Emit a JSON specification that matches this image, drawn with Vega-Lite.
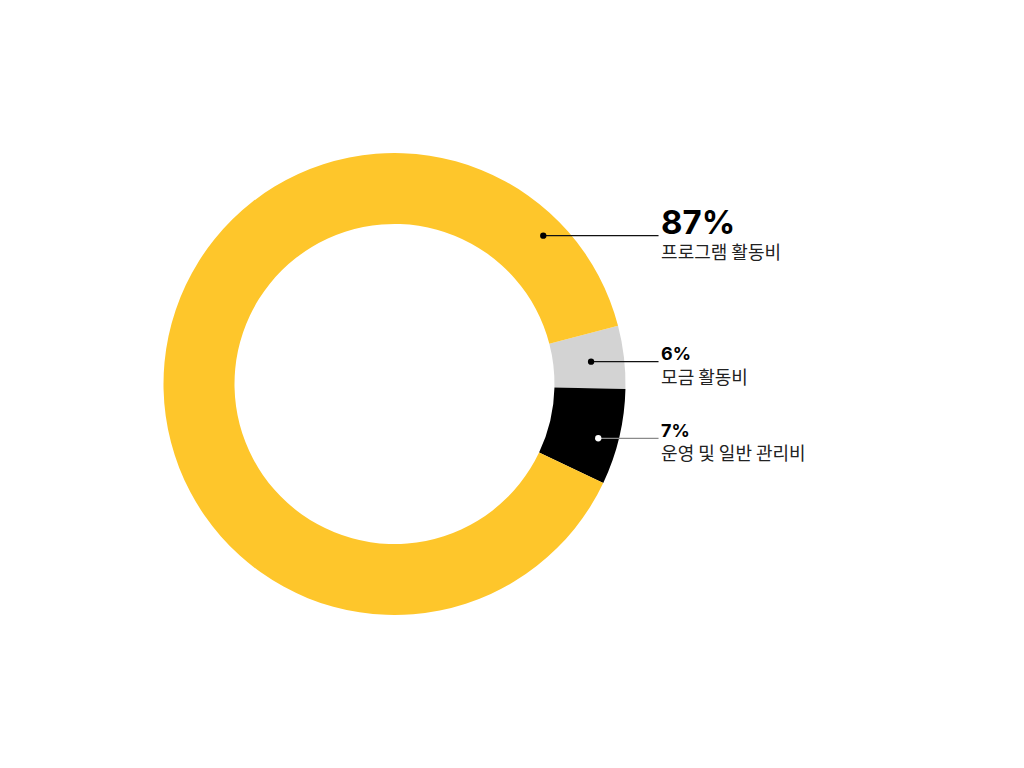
{
  "$schema": "https://vega.github.io/schema/vega-lite/v6.json",
  "width": 789,
  "height": 768,
  "autosize": {"type": "none"},
  "padding": {"left": 0, "top": 0, "right": 235, "bottom": 0},
  "background": "white",
  "config": {"view": {"stroke": null}},
  "datasets": {
    "segments": [
      {"name": "모금 활동비", "share": 4.4, "order": 1},
      {"name": "운영 및 일반 관리비", "share": 6.7, "order": 2},
      {"name": "프로그램 활동비", "share": 88.9, "order": 3}
    ],
    "labels": [
      {"name": "프로그램 활동비", "pct": "87%", "big": true, "dot_x": 64.4, "dot_y": 64.2, "line_end": 114.3, "text_x": 115.4, "pct_y": 65.15, "name_y": 54.3, "light": false},
      {"name": "모금 활동비", "pct": "6%", "big": false, "dot_x": 85.1, "dot_y": 9.65, "line_end": 114.3, "text_x": 115.4, "pct_y": 10.39, "name_y": -0.2, "light": false},
      {"name": "운영 및 일반 관리비", "pct": "7%", "big": false, "dot_x": 88.2, "dot_y": -23.5, "line_end": 114.3, "text_x": 115.4, "pct_y": -22.8, "name_y": -32.9, "light": true}
    ]
  },
  "layer": [
    {
      "data": {"name": "segments"},
      "mark": {"type": "arc", "outerRadius": 231, "innerRadius": 160},
      "encoding": {
        "theta": {
          "field": "share",
          "type": "quantitative",
          "stack": true,
          "scale": {"range": [1.316, 7.599]}
        },
        "order": {"field": "order", "type": "quantitative"},
        "color": {
          "field": "name",
          "type": "nominal",
          "scale": {
            "domain": ["모금 활동비", "운영 및 일반 관리비", "프로그램 활동비"],
            "range": ["#d3d3d3", "#000000", "#fec62b"]
          },
          "legend": null
        }
      }
    },
    {
      "data": {"name": "labels"},
      "layer": [
        {
          "mark": {"type": "rule", "strokeWidth": 1.2},
          "encoding": {
            "x": {"field": "dot_x", "type": "quantitative", "scale": {"domain": [-170.78, 170.78], "zero": false, "nice": false}, "axis": null},
            "x2": {"field": "line_end"},
            "y": {"field": "dot_y", "type": "quantitative", "scale": {"domain": [-166.23, 166.23], "zero": false, "nice": false}, "axis": null},
            "stroke": {
              "condition": {"test": "datum.light", "value": "#8a8a8a"},
              "value": "#111111"
            }
          }
        },
        {
          "mark": {"type": "circle", "size": 40, "opacity": 1},
          "encoding": {
            "x": {"field": "dot_x", "type": "quantitative"},
            "y": {"field": "dot_y", "type": "quantitative"},
            "fill": {
              "condition": {"test": "datum.light", "value": "#ffffff"},
              "value": "#000000"
            }
          }
        },
        {
          "transform": [{"filter": "datum.big"}],
          "mark": {"type": "text", "align": "left", "baseline": "alphabetic", "font": "Inter", "fontWeight": "bold", "fontSize": 33, "fill": "#000000"},
          "encoding": {
            "x": {"field": "text_x", "type": "quantitative"},
            "y": {"field": "pct_y", "type": "quantitative"},
            "text": {"field": "pct"}
          }
        },
        {
          "transform": [{"filter": "!datum.big"}],
          "mark": {"type": "text", "align": "left", "baseline": "alphabetic", "font": "Inter", "fontWeight": "bold", "fontSize": 18, "fill": "#000000"},
          "encoding": {
            "x": {"field": "text_x", "type": "quantitative"},
            "y": {"field": "pct_y", "type": "quantitative"},
            "text": {"field": "pct"}
          }
        },
        {
          "mark": {"type": "text", "align": "left", "baseline": "alphabetic", "font": "Noto Sans CJK KR", "fontSize": 18, "fill": "#222222"},
          "encoding": {
            "x": {"field": "text_x", "type": "quantitative"},
            "y": {"field": "name_y", "type": "quantitative"},
            "text": {"field": "name"}
          }
        }
      ]
    }
  ]
}
